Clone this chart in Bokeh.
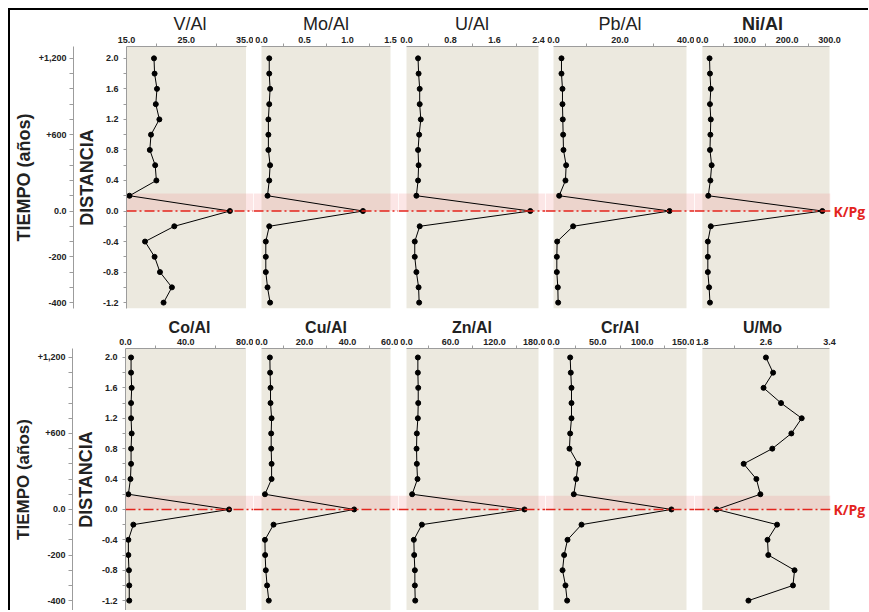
from bokeh.plotting import figure
from bokeh.layouts import row, column
from bokeh.models import (Range1d, LinearAxis, FixedTicker, BoxAnnotation, Span,
                          Div, NumeralTickFormatter)
from bokeh.embed import file_html
from bokeh.resources import INLINE

# ---------------- data ----------------
distance = [2.0, 1.8, 1.6, 1.4, 1.2, 1.0, 0.8, 0.6, 0.4, 0.2, 0.0,
            -0.2, -0.4, -0.6, -0.8, -1.0, -1.2]

v_al = [19.6, 19.7, 20.1, 19.9, 20.5, 19.1, 18.9, 19.8, 20.0, 15.5, 32.3, 23.0, 18.1, 19.7, 20.6, 22.6, 21.2]
mo_al = [0.09, 0.09, 0.10, 0.09, 0.08, 0.08, 0.08, 0.10, 0.09, 0.07, 1.18, 0.09, 0.05, 0.05, 0.05, 0.07, 0.10]
u_al = [0.21, 0.22, 0.24, 0.24, 0.26, 0.23, 0.21, 0.22, 0.21, 0.18, 2.25, 0.24, 0.15, 0.15, 0.18, 0.22, 0.23]
pb_al = [2.4, 2.4, 2.7, 2.7, 2.8, 2.9, 3.0, 3.8, 3.6, 1.7, 34.9, 5.9, 1.1, 1.0, 1.0, 1.3, 1.4]
ni_al = [17, 18, 20, 18, 20, 19, 18, 22, 19, 14, 283, 20, 13, 13, 13, 16, 18]
co_al = [3.7, 3.7, 4.1, 3.7, 3.7, 4.1, 3.7, 3.7, 3.3, 1.9, 68.8, 5.2, 1.9, 1.9, 2.3, 2.5, 2.5]
cu_al = [3.9, 4.0, 4.2, 4.2, 4.7, 4.5, 4.5, 4.7, 4.7, 1.6, 43.1, 5.6, 1.6, 1.7, 2.0, 2.6, 3.4]
zn_al = [15.5, 15.5, 16.0, 16.0, 15.5, 14.1, 13.7, 14.1, 15.0, 7.7, 160.9, 21.0, 10.0, 10.5, 11.4, 11.4, 11.9]
cr_al = [18.8, 19.5, 20.3, 20.3, 20.3, 18.8, 18.0, 27.8, 25.6, 22.9, 133.0, 31.6, 15.8, 12.0, 10.2, 13.5, 15.4]
u_mo = [2.60, 2.69, 2.57, 2.79, 3.05, 2.92, 2.68, 2.32, 2.48, 2.53, 1.98, 2.74, 2.62, 2.63, 2.96, 2.94, 2.38]

top_titles = ["V/Al", "Mo/Al", "U/Al", "Pb/Al", "Ni/Al"]
top_bold = [False, False, False, False, True]
top_series = [v_al, mo_al, u_al, pb_al, ni_al]
top_ticks = [[15.0, 25.0, 35.0], [0.0, 0.5, 1.0, 1.5], [0.0, 0.8, 1.6, 2.4],
             [0.0, 20.0, 40.0], [0.0, 100.0, 200.0, 300.0]]

bottom_titles = ["Co/Al", "Cu/Al", "Zn/Al", "Cr/Al", "U/Mo"]
bottom_series = [co_al, cu_al, zn_al, cr_al, u_mo]
bottom_ticks = [[0.0, 40.0, 80.0], [0.0, 20.0, 40.0, 60.0], [0.0, 60.0, 120.0, 180.0],
                [0.0, 50.0, 100.0, 150.0], [1.8, 2.6, 3.4]]

dist_ticks = [-1.2, -0.8, -0.4, 0.0, 0.4, 0.8, 1.2, 1.6, 2.0]
dist_minor = [-1.0, -0.6, -0.2, 0.2, 0.6, 1.0, 1.4, 1.8]
time_pos = [2.0, 1.0, 0.0, -0.6, -1.2]
time_labels = ["+1,200", "+600", "0.0", "-200", "-400"]
time_minor = [1.8, 1.6, 1.4, 1.2, 0.8, 0.6, 0.4, 0.2, -0.2, -0.4, -0.8, -1.0]

kpg_pos = [0.0]
kpg_labels = ["K/Pg"]

# ---------------- style / layout ----------------
BEIGE = "#ECE9DF"
RED = "#E3241D"
AXIS_GRAY = "#9C9C9C"
TXT = "#222222"
TICK_FONT = "Liberation Sans"
FRAME_W = [136, 145, 147, 149, 139]
PAD_L = [0, 8, 8, 8, 8]
PAD_R = [8, 8, 7, 8, 1]
LEFT_BORDER = 107
RIGHT_BORDER = 35


def style_ticklabels(ax, size="9px"):
    ax.major_label_text_font = TICK_FONT
    ax.major_label_text_font_style = "bold"
    ax.major_label_text_font_size = size
    ax.major_label_text_color = TXT
    ax.axis_line_color = AXIS_GRAY
    ax.major_tick_line_color = AXIS_GRAY
    ax.minor_tick_line_color = AXIS_GRAY
    ax.major_tick_in = 0
    ax.minor_tick_in = 0


def make_panel(i, values, ticks, title, bold, title_size, yr, height, mbt, mbb,
               band_top, time_label_size):
    lo, hi = ticks[0], ticks[-1]
    bw = FRAME_W[i] - PAD_L[i] - PAD_R[i]
    k = (hi - lo) / bw
    xr = Range1d(lo - PAD_L[i] * k, hi + PAD_R[i] * k)
    first = i == 0
    last = i == 4
    mbl = LEFT_BORDER if first else 0
    mbr = RIGHT_BORDER if last else 0
    p = figure(width=FRAME_W[i] + mbl + mbr, height=height, x_range=xr,
               y_range=Range1d(*yr), x_axis_location="above",
               y_axis_location="left" if first else None,
               output_backend="svg", toolbar_location=None,
               min_border_left=mbl, min_border_right=mbr,
               min_border_top=mbt, min_border_bottom=mbb)
    p.grid.visible = False
    p.outline_line_color = None
    p.background_fill_color = "white"
    p.border_fill_color = "white"

    p.add_layout(BoxAnnotation(left=lo, right=hi, fill_color=BEIGE, fill_alpha=1.0,
                               line_color=None, level="underlay"))
    p.add_layout(BoxAnnotation(bottom=0.0, top=band_top, fill_color="#F08080",
                               fill_alpha=0.2, line_color=None, level="underlay"))

    p.line(values, distance, line_color="black", line_width=1)
    p.scatter(values, distance, size=5, color="black")

    p.add_layout(Span(location=0.0, dimension="width", line_color=RED,
                      line_width=1.6, line_dash="10 3 2 3"))

    mids = [(a + b) / 2 for a, b in zip(ticks[:-1], ticks[1:])]
    ax = p.xaxis[0]
    ax.ticker = FixedTicker(ticks=ticks, minor_ticks=mids)
    ax.formatter = NumeralTickFormatter(format="0.0")
    ax.bounds = (lo, hi)
    ax.axis_label = title
    ax.axis_label_text_font = "Liberation Sans"
    ax.axis_label_text_font_style = "bold" if bold else "normal"
    ax.axis_label_text_font_size = title_size
    ax.axis_label_text_color = TXT
    ax.axis_label_standoff = 0
    ax.major_label_standoff = 1
    ax.major_tick_out = 0
    ax.minor_tick_out = 3
    style_ticklabels(ax)

    if first:
        ya = p.yaxis[0]
        ya.ticker = FixedTicker(ticks=dist_ticks, minor_ticks=dist_minor)
        ya.formatter = NumeralTickFormatter(format="0.0")
        ya.axis_label = "DISTANCIA"
        ya.axis_label_text_font = "Liberation Sans"
        ya.axis_label_text_font_style = "bold"
        ya.axis_label_text_font_size = "18px"
        ya.axis_label_text_color = TXT
        ya.axis_label_standoff = 3
        ya.major_label_standoff = 5
        ya.major_tick_out = 3
        ya.minor_tick_out = 3
        style_ticklabels(ya)

        ta = LinearAxis(ticker=FixedTicker(ticks=time_pos, minor_ticks=time_minor),
                        major_label_overrides=dict(zip(time_pos, time_labels)),
                        axis_label="TIEMPO (años)")
        ta.axis_label_text_font = "Liberation Sans"
        ta.axis_label_text_font_style = "bold"
        ta.axis_label_text_font_size = time_label_size
        ta.axis_label_text_color = TXT
        ta.axis_label_standoff = 2
        ta.major_label_standoff = 3
        ta.major_tick_out = 4
        ta.minor_tick_out = 4
        style_ticklabels(ta)
        p.add_layout(ta, "left")

    if last:
        ka = LinearAxis(ticker=FixedTicker(ticks=kpg_pos, minor_ticks=[]),
                        major_label_overrides=dict(zip(kpg_pos, kpg_labels)))
        ka.axis_line_color = None
        ka.major_tick_line_color = None
        ka.minor_tick_line_color = None
        ka.major_tick_out = 0
        ka.major_label_standoff = 3
        ka.major_label_text_font = "Open Sans"
        ka.major_label_text_font_style = "bold"
        ka.major_label_text_font_size = "14px"
        ka.major_label_text_color = RED
        p.add_layout(ka, "right")
    return p


top_figs = [make_panel(i, top_series[i], top_ticks[i], top_titles[i], top_bold[i], "18px",
                       (-1.277, 2.155), 300, 32, 2, 0.23, "18px") for i in range(5)]
bottom_figs = [make_panel(i, bottom_series[i], bottom_ticks[i], bottom_titles[i], True, "16px",
                          (-1.33, 2.118), 300, 38, 0, 0.18, "17px") for i in range(5)]

left_line = Div(width=2, height=602, margin=0, styles={"background-color": "black"})
top_line = Div(width=858, height=2, margin=0, styles={"background-color": "black"})

layout = row(left_line, column(top_line, row(*top_figs), row(*bottom_figs)),
             margin=(8, 0, 0, 8))

open("out.html", "w").write(file_html(layout, INLINE))
